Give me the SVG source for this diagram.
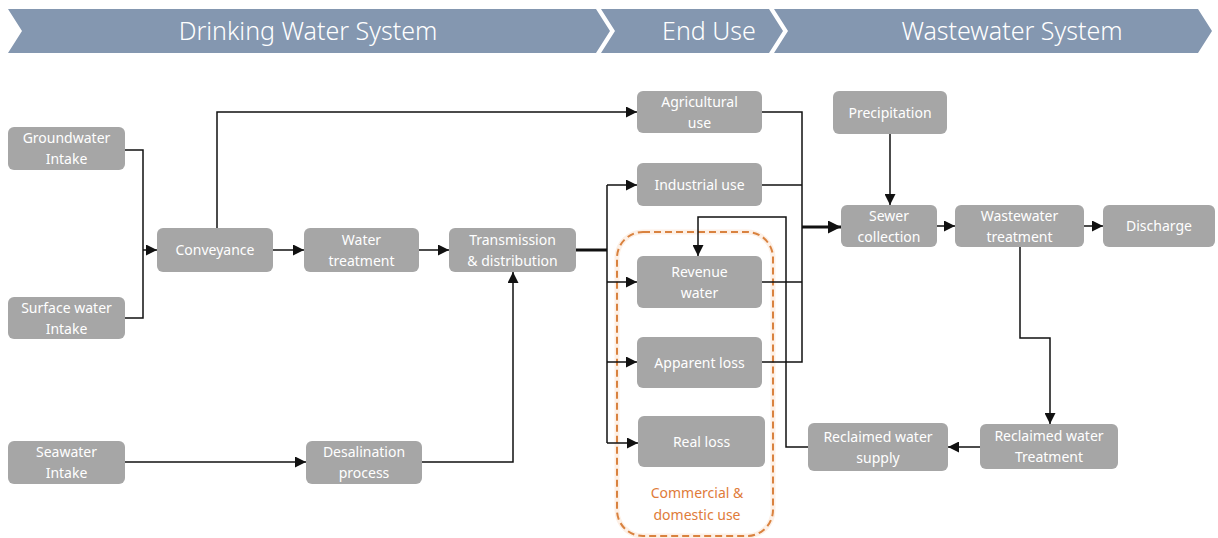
<svg xmlns="http://www.w3.org/2000/svg" width="1218" height="538" viewBox="0 0 1218 538">
<style>
.band{fill:#8497B0}
.bt{font-family:"Noto Sans","Open Sans","Liberation Sans",sans-serif;font-size:25px;font-weight:300;fill:#fff;text-anchor:middle}
.n rect{fill:#A6A6A6}
.n text{font-family:"Noto Sans","Open Sans","Liberation Sans",sans-serif;font-size:14px;fill:#fff;text-anchor:middle}
.c path{fill:none;stroke:#111;stroke-width:1.5}
.c path.thick{stroke-width:3}
.grp{fill:none;stroke:#D9823F;stroke-width:2;stroke-dasharray:7 4}
.glow{fill:none;stroke:#FDF0E6;stroke-width:5}
.gl{font-family:"Noto Sans","Open Sans","Liberation Sans",sans-serif;font-size:14px;fill:#E07B39;text-anchor:middle}
</style>
<defs>
<marker id="a" markerUnits="userSpaceOnUse" markerWidth="11" markerHeight="11" refX="10" refY="5" orient="auto" viewBox="0 0 10 10"><path d="M0,0 L10,5 L0,10 z" fill="#111"/></marker>
<marker id="ab" markerUnits="userSpaceOnUse" markerWidth="13" markerHeight="13" refX="10" refY="5" orient="auto" viewBox="0 0 10 10"><path d="M0,0 L10,5 L0,10 z" fill="#111"/></marker>
</defs>
<rect width="1218" height="538" fill="#fff"/>
<g id="header">
<polygon class="band" points="8,9 596,9 610,31 596,53 8,53 22,31"/>
<polygon class="band" points="601,9 769,9 783,31 769,53 601,53 615,31"/>
<polygon class="band" points="774,9 1198,9 1212,31 1198,53 774,53 788,31"/>
<text class="bt" x="308" y="40">Drinking Water System</text>
<text class="bt" x="709" y="40">End Use</text>
<text class="bt" x="1012" y="40">Wastewater System</text>
</g>
<g id="commercial-group">
<rect class="glow" x="617" y="232" width="156" height="304" rx="26"/>
<rect class="grp" x="617" y="232" width="156" height="304" rx="26"/>
<text class="gl" x="697" y="498">Commercial &amp;</text>
<text class="gl" x="697" y="520">domestic use</text>
</g>
<g id="connectors" class="c">
<path d="M125,150 H143 V318 H125"/>
<path d="M143,250 H157" marker-end="url(#a)"/>
<path d="M273,250 H304" marker-end="url(#a)"/>
<path d="M217,228 V112 H637" marker-end="url(#a)"/>
<path d="M419,250 H449" marker-end="url(#a)"/>
<path d="M125,462 H306" marker-end="url(#a)"/>
<path d="M422,462 H513 V272" marker-end="url(#a)"/>
<path class="thick" d="M576,250 H607"/>
<path d="M607,185 V443"/>
<path d="M607,185 H637" marker-end="url(#a)"/>
<path d="M607,282 H637" marker-end="url(#a)"/>
<path d="M607,362 H637" marker-end="url(#a)"/>
<path d="M607,443 H638" marker-end="url(#a)"/>
<path d="M762,112 H802 V362 H762"/>
<path d="M762,185 H802"/>
<path d="M762,282 H802"/>
<path class="thick" d="M802,227 H841" marker-end="url(#ab)"/>
<path d="M890,134 V205" marker-end="url(#a)"/>
<path d="M937,226 H955" marker-end="url(#a)"/>
<path d="M1084,226 H1103" marker-end="url(#a)"/>
<path d="M1020,247 V338 H1050 V424" marker-end="url(#a)"/>
<path d="M980,447 H948" marker-end="url(#a)"/>
<path d="M808,447 H786 V217 H698 V256" marker-end="url(#a)"/>
</g>
<g id="groundwater" class="n"><rect x="8" y="127" width="117" height="43" rx="6"/><text x="66.5" y="143">Groundwater</text><text x="66.5" y="164">Intake</text></g>
<g id="surface" class="n"><rect x="8" y="297" width="117" height="42" rx="6"/><text x="66.5" y="313">Surface water</text><text x="66.5" y="334">Intake</text></g>
<g id="seawater" class="n"><rect x="8" y="441" width="117" height="43" rx="6"/><text x="66.5" y="457">Seawater</text><text x="66.5" y="478">Intake</text></g>
<g id="conveyance" class="n"><rect x="157" y="228" width="116" height="44" rx="6"/><text x="215" y="255">Conveyance</text></g>
<g id="water-treatment" class="n"><rect x="304" y="228" width="115" height="44" rx="6"/><text x="361.5" y="245">Water</text><text x="361.5" y="266">treatment</text></g>
<g id="transmission" class="n"><rect x="449" y="228" width="127" height="44" rx="6"/><text x="512.5" y="245">Transmission</text><text x="512.5" y="266">&amp; distribution</text></g>
<g id="desalination" class="n"><rect x="306" y="441" width="116" height="43" rx="6"/><text x="364" y="457">Desalination</text><text x="364" y="478">process</text></g>
<g id="agricultural" class="n"><rect x="637" y="91" width="125" height="42" rx="6"/><text x="699.5" y="107">Agricultural</text><text x="699.5" y="128">use</text></g>
<g id="industrial" class="n"><rect x="637" y="163" width="125" height="43" rx="6"/><text x="699.5" y="190">Industrial use</text></g>
<g id="revenue" class="n"><rect x="637" y="256" width="125" height="52" rx="6"/><text x="699.5" y="277">Revenue</text><text x="699.5" y="298">water</text></g>
<g id="apparent" class="n"><rect x="637" y="337" width="125" height="51" rx="6"/><text x="699.5" y="368">Apparent loss</text></g>
<g id="real" class="n"><rect x="638" y="416" width="127" height="51" rx="6"/><text x="701.5" y="447">Real loss</text></g>
<g id="precipitation" class="n"><rect x="833" y="91" width="114" height="43" rx="6"/><text x="890" y="118">Precipitation</text></g>
<g id="sewer" class="n"><rect x="841" y="205" width="96" height="42" rx="6"/><text x="889" y="221">Sewer</text><text x="889" y="242">collection</text></g>
<g id="wastewater-treatment" class="n"><rect x="955" y="205" width="129" height="42" rx="6"/><text x="1019.5" y="221">Wastewater</text><text x="1019.5" y="242">treatment</text></g>
<g id="discharge" class="n"><rect x="1103" y="205" width="112" height="42" rx="6"/><text x="1159" y="231">Discharge</text></g>
<g id="reclaimed-supply" class="n"><rect x="808" y="423" width="140" height="48" rx="6"/><text x="878" y="442">Reclaimed water</text><text x="878" y="463">supply</text></g>
<g id="reclaimed-treatment" class="n"><rect x="980" y="424" width="138" height="45" rx="6"/><text x="1049" y="441">Reclaimed water</text><text x="1049" y="462">Treatment</text></g>
</svg>
